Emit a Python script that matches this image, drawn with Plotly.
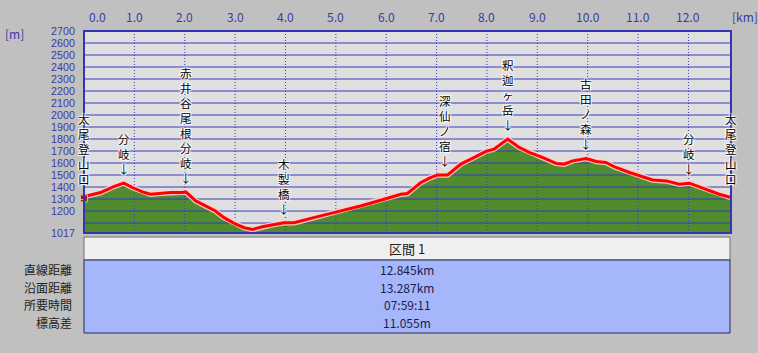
import plotly.graph_objects as go
import numpy as np

# ---------------- data ----------------
dist_km = [0.0, 0.33, 0.59, 0.79, 0.96, 1.16, 1.32, 1.52, 1.72, 1.95, 2.02, 2.22, 2.42, 2.61,
           2.78, 2.98, 3.18, 3.35, 3.54, 3.78, 3.97, 4.17, 4.31, 4.56, 4.96, 5.49, 5.96, 6.29,
           6.42, 6.69, 6.88, 7.02, 7.22, 7.48, 7.75, 7.98, 8.14, 8.41, 8.64, 8.84, 9.10, 9.37,
           9.53, 9.70, 9.97, 10.17, 10.36, 10.56, 10.83, 11.09, 11.29, 11.56, 11.82, 12.02,
           12.22, 12.42, 12.61, 12.81, 12.845]
elev_m = [1320, 1354, 1404, 1432, 1396, 1359, 1340, 1348, 1354, 1354, 1359, 1284, 1242, 1200,
          1145, 1097, 1061, 1047, 1069, 1089, 1103, 1103, 1116, 1145, 1187, 1242, 1298, 1340,
          1346, 1438, 1479, 1501, 1501, 1591, 1647, 1697, 1716, 1800, 1730, 1689, 1647, 1597,
          1591, 1618, 1638, 1613, 1605, 1563, 1521, 1488, 1459, 1451, 1423, 1432, 1401, 1367,
          1340, 1317, 1315]

wp_names = ["太尾登山口", "分岐", "赤井谷尾根分岐", "木製橋", "深仙ノ宿", "釈迦ヶ岳", "古田ノ森", "分岐", "太尾登山口"]
wp_km = [0.0, 0.79, 2.02, 3.97, 7.17, 8.41, 9.97, 12.02, 12.845]
wp_arrow = [False, True, True, True, True, True, True, True, False]

x_ticks = list(range(0, 13))
y_ticks = [1200, 1300, 1400, 1500, 1600, 1700, 1800, 1900, 2000, 2100, 2200, 2300, 2400, 2500, 2600, 2700]
y_min, y_max = 1017, 2700
x_max = 12.845

table_title = "区間 1"
table_labels = ["直線距離", "沿面距離", "所要時間", "標高差"]
table_values = ["12.845km", "13.287km", "07:59:11", "11.055m"]

# ---------------- styling ----------------
W, H = 758, 353
L, R, T, B = 84, 731, 31, 233
PAGE_BG = "#c0c0c0"
PLOT_BG = "#dfdfdf"
GRID = "#3a3ac0"
AXTXT = "#3a3aa8"
GREEN = "#4e8c2e"
FONT = "Noto Sans CJK JP"
NUMFONT = "Liberation Sans"


def px2x(px):
    return (px - L) / (R - L)


def py2y(py):
    return (B - py) / (B - T)


fig = go.Figure()

# terrain fill
fig.add_trace(go.Scatter(x=dist_km, y=elev_m, fill="tozeroy", mode="none",
                         fillcolor=GREEN, hoverinfo="skip"))

# grid lines (drawn above fill)
gx, gy = [], []
for v in list(range(1100, 2800, 100)):
    gx += [0, x_max, None]
    gy += [v, v, None]
fig.add_trace(go.Scatter(x=gx, y=gy, mode="lines", line=dict(color=GRID, width=1),
                         hoverinfo="skip"))
vx, vy = [], []
for k in x_ticks[1:]:
    vx += [k, k, None]
    vy += [y_min, y_max, None]
fig.add_trace(go.Scatter(x=vx, y=vy, mode="lines",
                         line=dict(color=GRID, width=1, dash="1px,2px"), hoverinfo="skip"))

# profile line with light halo
fig.add_trace(go.Scatter(x=dist_km, y=elev_m, mode="lines",
                         line=dict(color="rgba(255,205,205,0.9)", width=5.5), hoverinfo="skip"))
fig.add_trace(go.Scatter(x=dist_km, y=elev_m, mode="lines",
                         line=dict(color="#ff0000", width=3), hoverinfo="skip"))

# hiker marker at start
fig.add_trace(go.Scatter(x=[dist_km[0]], y=[elev_m[0] - 15], mode="markers",
                         marker=dict(color="#8e2424", size=7, symbol="square",
                                     line=dict(color="#e0b090", width=1)),
                         cliponaxis=False, hoverinfo="skip"))

annotations = []
shadow = "1px 1px 1px #fff, -1px -1px 1px #fff, 1px -1px 1px #fff, -1px 1px 1px #fff"

# waypoint labels
for name, km, arr in zip(wp_names, wp_km, wp_arrow):
    e = float(np.interp(km, dist_km, elev_m))
    txt = "<br>".join(list(name)) + ("<br>↓" if arr else "")
    annotations.append(dict(x=km, y=e, xref="x", yref="y", text=txt, showarrow=False,
                            xanchor="center", yanchor="bottom",
                            yshift=(4 if arr else 8),
                            font=dict(family=FONT, size=11.5, color="#000", shadow=shadow)))

# top x tick labels
for k in x_ticks:
    annotations.append(dict(x=k, y=py2y(17), xref="x", yref="paper", text=f"{k:.1f}",
                            showarrow=False, xanchor=("left" if k == 0 else "center"),
                            xshift=(3 if k == 0 else 0), yanchor="middle",
                            font=dict(family=FONT, size=12, color=AXTXT)))
annotations.append(dict(x=px2x(745), y=py2y(17), xref="paper", yref="paper", text="[km]",
                        showarrow=False, xanchor="center", yanchor="middle",
                        font=dict(family=FONT, size=12, color=AXTXT)))
annotations.append(dict(x=px2x(3), y=py2y(33), xref="paper", yref="paper", text="[m]",
                        showarrow=False, xanchor="left", yanchor="middle",
                        font=dict(family=FONT, size=12, color=AXTXT)))

# table
shapes = []
shapes.append(dict(type="rect", xref="paper", yref="paper", x0=px2x(84), x1=px2x(730),
                   y0=py2y(260), y1=py2y(237), fillcolor="#f0f0f0",
                   line=dict(color="#707070", width=1), layer="above"))
shapes.append(dict(type="rect", xref="paper", yref="paper", x0=px2x(84), x1=px2x(730),
                   y0=py2y(333), y1=py2y(260), fillcolor="#a5b6fa",
                   line=dict(color="#2a2a50", width=1), layer="above"))
annotations.append(dict(x=px2x(407), y=py2y(248.5), xref="paper", yref="paper", text=table_title,
                        showarrow=False, xanchor="center", yanchor="middle",
                        font=dict(family=FONT, size=13, color="#222")))
row_y = [269.5, 287.2, 304.9, 322.6]
for lab, val, yy in zip(table_labels, table_values, row_y):
    annotations.append(dict(x=px2x(74), y=py2y(yy), xref="paper", yref="paper", text=lab,
                            showarrow=False, xanchor="right", yanchor="middle",
                            font=dict(family=FONT, size=12, color="#222")))
    annotations.append(dict(x=px2x(407), y=py2y(yy), xref="paper", yref="paper", text=val,
                            showarrow=False, xanchor="center", yanchor="middle",
                            font=dict(family=FONT, size=12, color="#1c1c50")))

# plot frame
shapes.append(dict(type="rect", xref="paper", yref="paper", x0=0, x1=1, y0=0, y1=1,
                   line=dict(color="#3434b4", width=2), fillcolor="rgba(0,0,0,0)", layer="above"))

fig.update_layout(
    width=W, height=H,
    margin=dict(l=L, r=W - R, t=T, b=H - B, pad=0),
    paper_bgcolor=PAGE_BG, plot_bgcolor=PLOT_BG,
    showlegend=False,
    xaxis=dict(range=[0, x_max], showgrid=False, zeroline=False, showticklabels=False,
               ticks="", fixedrange=True),
    yaxis=dict(range=[y_min, y_max], showgrid=False, zeroline=False, showticklabels=True,
               tickvals=[y_min] + y_ticks, ticktext=[str(v) for v in [y_min] + y_ticks],
               tickfont=dict(family=NUMFONT, size=10.7, color=AXTXT),
               ticks="outside", ticklen=6, tickcolor=PAGE_BG, tickwidth=0.1,
               fixedrange=True),
    annotations=annotations,
    shapes=shapes,
    font=dict(family=FONT),
)

fig.write_html("out.html", config={"displayModeBar": False})
